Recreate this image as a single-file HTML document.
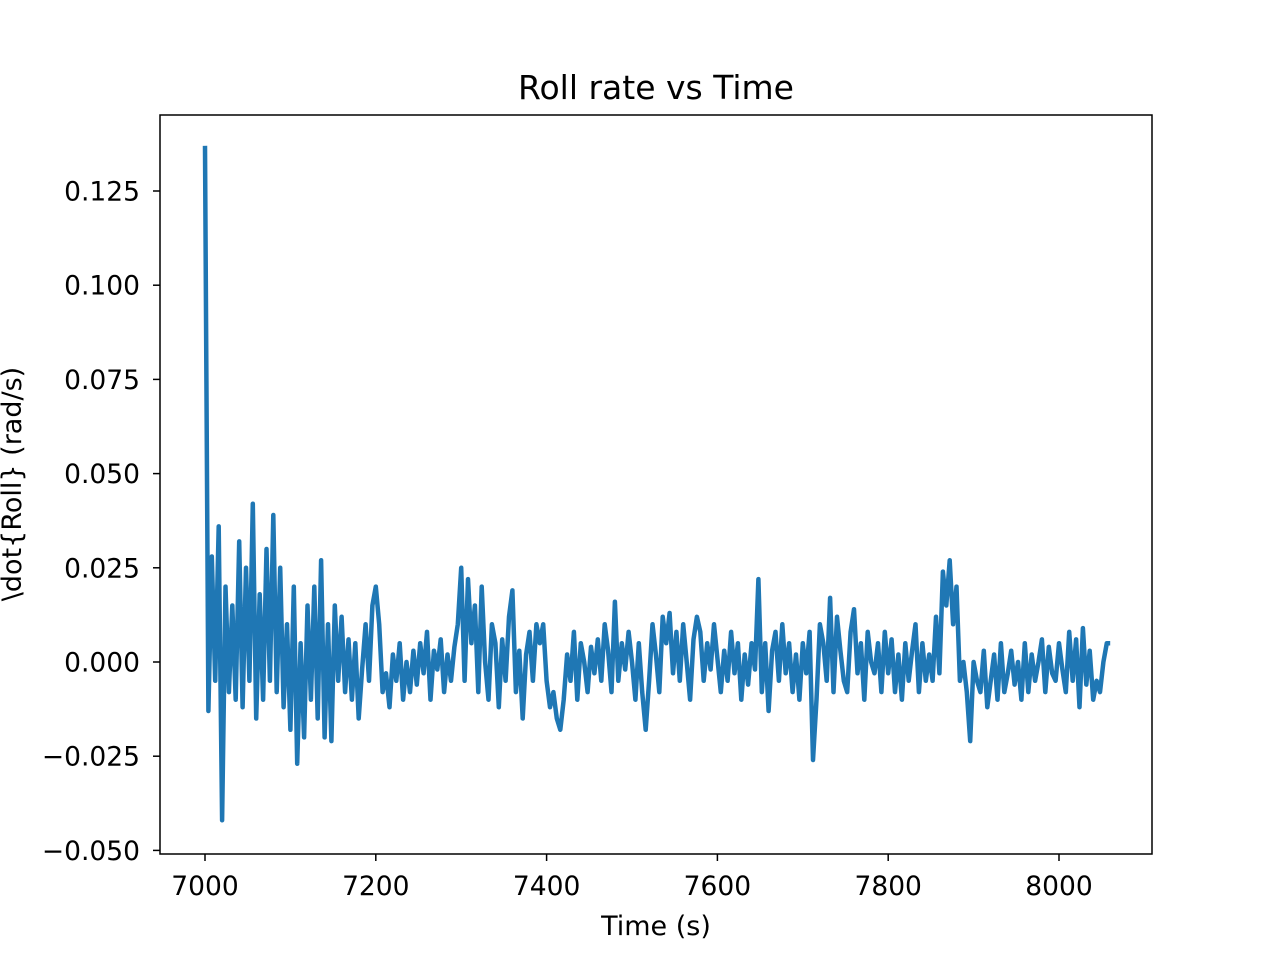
<!DOCTYPE html>
<html><head><meta charset="utf-8"><style>
html,body{margin:0;padding:0;background:#fff;}
svg{display:block;font-family:"DejaVu Sans","Liberation Sans",sans-serif;}
</style></head><body>
<svg id="chart" width="1280" height="960" viewBox="0 0 1280 960">
<rect width="1280" height="960" fill="#fff"/>
<text x="656" y="99" font-size="33" text-anchor="middle">Roll rate vs Time</text>
<g id="xticks"></g>
<g id="yticks"></g>
<polyline id="series" fill="none" stroke="#1f77b4" stroke-width="4.5" stroke-linejoin="round"/>
<rect x="160" y="115" width="992" height="739" fill="none" stroke="#000" stroke-width="1.5"/>
<text x="656" y="935" font-size="27" text-anchor="middle">Time (s)</text>
<text transform="translate(21,484) rotate(-90)" font-size="27" text-anchor="middle">\dot{Roll} (rad/s)</text>
</svg>
<script>
const xTickValues=[7000,7200,7400,7600,7800,8000];
const yTickValues=[-0.05,-0.025,0,0.025,0.05,0.075,0.1,0.125];
const yTickLabels=["\u22120.050","\u22120.025","0.000","0.025","0.050","0.075","0.100","0.125"];
const timeStart=7000, timeStep=4;
const rollRateMilli=[
137,-13,28,-5,36,-42,20,-8,15,-10,32,-12,25,-5,42,-15,18,-10,30,-5,39,-8,25,-12,10,
-18,20,-27,5,-20,15,-10,20,-15,27,-20,10,-21,15,-5,12,-8,6,-10,5,-15,-2,10,-5,15,
20,10,-8,-3,-12,2,-5,5,-10,0,-8,3,-6,5,-3,8,-10,3,-2,6,-8,2,-5,4,10,
25,-5,22,5,15,-8,20,0,-10,10,5,-12,6,-5,12,19,-8,3,-15,2,8,-5,10,5,10,
-5,-12,-8,-15,-18,-10,2,-5,8,-10,5,0,-8,4,-3,6,-5,10,3,-8,16,-5,5,-2,8,
0,-10,5,-8,-18,-5,10,2,-8,12,5,13,-3,8,-5,10,0,-10,6,12,8,-5,5,-2,10,
1,-8,3,-5,8,-3,5,-10,2,-6,5,-2,22,-8,5,-13,3,8,-5,10,-3,5,-8,2,-10,
5,-3,8,-26,-10,10,5,-5,17,-8,12,3,-5,-8,8,14,-3,5,-10,8,0,-3,5,-8,8,
-3,6,-8,2,-10,5,-5,3,10,-8,5,-5,2,-5,12,-3,24,15,27,10,20,-5,0,-8,-21,
0,-5,-8,3,-12,-5,2,-10,5,-8,-3,3,-6,0,-10,5,-8,2,-5,0,6,-8,4,-3,-5,
5,-2,-8,8,-5,6,-12,9,-6,3,-10,-5,-8,0,5,5];
const X=t=>205+(t-7000)*0.854;
const Y=v=>662-v*3768;
const NS="http://www.w3.org/2000/svg";
const xg=document.getElementById('xticks'), yg=document.getElementById('yticks');
xTickValues.forEach(t=>{
  const l=document.createElementNS(NS,'line');
  l.setAttribute('x1',X(t));l.setAttribute('x2',X(t));l.setAttribute('y1',854);l.setAttribute('y2',861);l.setAttribute('stroke','#000');l.setAttribute('stroke-width','1.5');
  
  
  xg.appendChild(l);
  const tx=document.createElementNS(NS,'text');
  tx.setAttribute('x',X(t));tx.setAttribute('y',895);tx.setAttribute('font-size','26.5');tx.setAttribute('text-anchor','middle');
  tx.textContent=t;
  
  
  xg.appendChild(tx);
});
yTickValues.forEach((v,i)=>{
  const l=document.createElementNS(NS,'line');
  l.setAttribute('x1',153);l.setAttribute('x2',160);l.setAttribute('y1',Y(v));l.setAttribute('y2',Y(v));l.setAttribute('stroke','#000');l.setAttribute('stroke-width','1.5');
  
  
  yg.appendChild(l);
  const tx=document.createElementNS(NS,'text');
  tx.setAttribute('x',140);tx.setAttribute('y',Y(v)+9.5);tx.setAttribute('font-size','26.5');tx.setAttribute('text-anchor','end');
  tx.textContent=yTickLabels[i];
  
  
  yg.appendChild(tx);
});
const pts=rollRateMilli.map((v,i)=>X(timeStart+i*timeStep).toFixed(1)+','+Y(v*0.001).toFixed(1)).join(' ');
document.getElementById('series').setAttribute('points',pts);
</script>
</body></html>
